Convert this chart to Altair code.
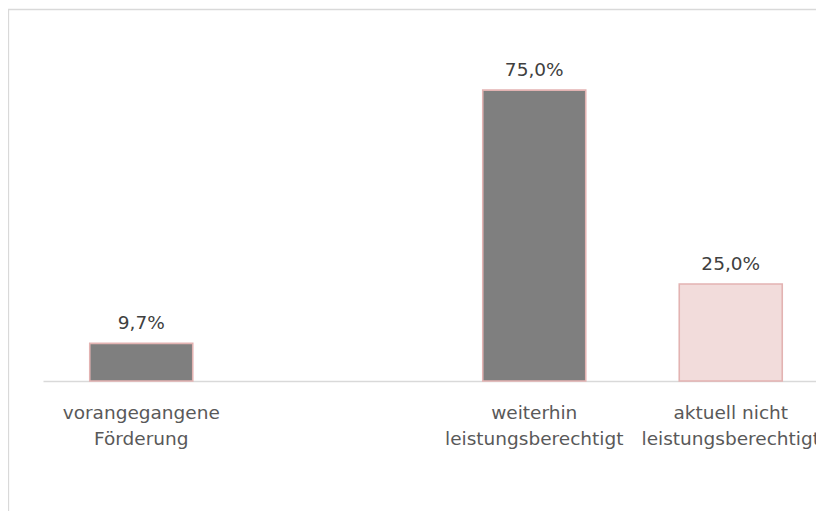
import altair as alt
import pandas as pd

categories = ["vorangegangene|Förderung", " ", "weiterhin|leistungsberechtigt", "aktuell nicht|leistungsberechtigt"]
bar_categories = ["vorangegangene|Förderung", "weiterhin|leistungsberechtigt", "aktuell nicht|leistungsberechtigt"]
values = [9.7, 75.0, 25.0]
labels = ["9,7%", "75,0%", "25,0%"]
groups = ["dark", "dark", "light"]

df = pd.DataFrame({"cat": bar_categories, "val": values, "lab": labels, "grp": groups})

FONT = "DejaVu Sans"
xscale = alt.Scale(domain=categories, range=[0, 786], paddingInner=0, paddingOuter=0)

x = alt.X("cat:N", sort=categories, scale=xscale,
          axis=alt.Axis(title=None, labelAngle=0, ticks=False, domainColor="#d9d9d9", domainWidth=1.3,
                        labelColor="#595959", labelFont=FONT, labelFontSize=18.5, labelPadding=22,
                        labelLineHeight=26, labelBaseline="top",
                        labelExpr="split(datum.label, '|')"))
y = alt.Y("val:Q", scale=alt.Scale(domain=[0, 90]), axis=None)

bars = alt.Chart(df).mark_bar(size=103, strokeWidth=1.6, stroke="#e3b3b2").encode(
    x=x, y=y,
    color=alt.Color("grp:N", scale=alt.Scale(domain=["dark", "light"], range=["#7f7f7f", "#f2dcdb"]), legend=None),
)

text = alt.Chart(df).mark_text(font=FONT, fontSize=18.5, color="#404040", baseline="alphabetic", dy=-14).encode(
    x=alt.X("cat:N", sort=categories, scale=xscale),
    y=y,
    text="lab:N",
)

frame = alt.Chart(alt.Data(values=[{}])).mark_rect(fillOpacity=0, stroke="#d9d9d9", strokeWidth=1.3).encode(
    x=alt.value(-34.5), x2=alt.value(820), y=alt.value(-22.5), y2=alt.value(700)
)

chart = alt.layer(frame, bars, text).properties(
    width=773, height=349,
    background="white",
    autosize=alt.AutoSizeParams(type="none"),
    padding={"left": 35, "top": 24, "right": 0, "bottom": 130},
).configure_view(stroke=None)

chart.save("out.html", embed_options={"renderer": "svg", "actions": False})
